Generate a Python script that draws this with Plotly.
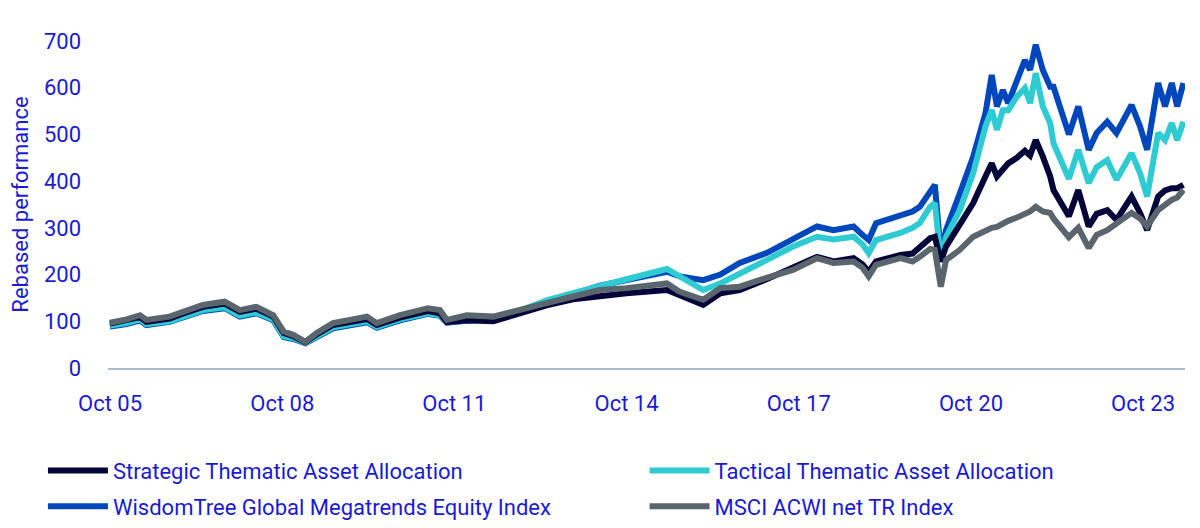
import plotly.graph_objects as go

# Rebased performance (approximate)
dates = [
    "2005-09-30", "2006-01-15", "2006-04-10", "2006-05-20", "2006-10-15",
    "2007-01-10", "2007-05-15", "2007-10-01", "2008-01-05", "2008-04-20",
    "2008-08-05", "2008-10-10", "2008-12-10", "2009-02-25", "2009-05-08",
    "2009-08-20", "2010-03-25", "2010-05-25", "2010-10-20", "2011-04-15",
    "2011-07-01", "2011-08-15", "2011-12-20", "2012-06-05", "2012-11-01",
    "2013-05-10", "2013-10-25", "2014-04-15", "2014-10-01", "2015-06-15",
    "2015-09-05", "2016-02-01", "2016-05-20", "2016-09-20", "2017-03-10",
    "2017-08-25", "2018-01-25", "2018-05-10", "2018-09-15", "2018-11-10",
    "2018-12-20", "2019-02-05", "2019-07-10", "2019-09-25", "2019-11-10",
    "2020-01-15", "2020-02-14", "2020-03-23", "2020-04-25", "2020-07-22",
    "2020-10-15", "2021-01-01", "2021-02-10", "2021-03-15", "2021-04-22",
    "2021-05-26", "2021-07-20", "2021-09-09", "2021-10-12", "2021-11-17",
    "2022-01-01", "2022-02-17", "2022-03-10", "2022-06-16", "2022-08-15",
    "2022-10-20", "2022-12-10", "2023-02-15", "2023-04-15", "2023-07-20",
    "2023-09-12", "2023-10-27", "2024-01-05", "2024-02-18", "2024-04-01",
    "2024-05-05", "2024-06-14",
]

msci = [
    97, 104, 113, 103, 110,
    121, 135, 142, 124, 131,
    113, 78, 71, 56, 75,
    96, 110, 96, 113, 128,
    124, 103, 113, 110, 124,
    139, 153, 167, 171, 181,
    163, 146, 171, 174, 193,
    210, 235, 225, 228, 215,
    196, 221, 235, 228, 238,
    255, 253, 174, 231, 253,
    281, 295, 300, 302, 310,
    315, 322, 330, 335, 345,
    335, 332, 320, 280, 300,
    257, 285, 295, 310, 332,
    320, 303, 338, 350, 360,
    365, 381,
]

strategic = [
    95, 101, 109, 99, 106,
    117, 131, 138, 120, 127,
    110, 75, 68, 55, 72,
    92, 105, 92, 108, 122,
    117, 98, 102, 100, 115,
    134, 147, 155, 160, 167,
    155, 135, 160, 167, 190,
    214, 238, 228, 235, 222,
    206, 228, 242, 245, 260,
    278, 281, 228, 260, 310,
    353, 410, 438, 410, 425,
    438, 450, 465, 455, 488,
    453, 410, 381, 325, 381,
    303, 330, 338, 317, 367,
    332, 295, 367, 380, 385,
    385, 392,
]

tactical = [
    91, 96, 104, 94, 100,
    110, 124, 130, 112, 119,
    104, 68, 64, 54, 68,
    87, 100, 88, 104, 117,
    113, 98, 102, 104, 120,
    145, 160, 174, 190, 212,
    196, 167, 181, 203, 231,
    260, 281, 275, 281, 265,
    246, 274, 289, 300, 310,
    345, 353, 232, 280, 338,
    417, 517, 552, 510, 552,
    552, 581, 599, 567, 631,
    560, 524, 481, 405, 467,
    396, 430, 445, 403, 460,
    417, 367, 503, 488, 524,
    488, 527,
]

wisdomtree = [
    89, 94, 102, 92, 99,
    109, 122, 128, 110, 117,
    102, 66, 62, 53, 66,
    85, 98, 86, 102, 116,
    112, 97, 101, 103, 118,
    143, 158, 176, 188, 206,
    196, 188, 200, 225, 246,
    274, 303, 295, 303, 285,
    274, 310, 328, 335, 345,
    374, 392, 245, 295, 374,
    452, 545, 627, 560, 595,
    567, 617, 659, 638, 692,
    638, 602, 602, 500, 560,
    467, 503, 527, 503, 563,
    517, 467, 610, 560, 610,
    560, 610,
]

tick_dates = ["2005-10-01", "2008-10-01", "2011-10-01", "2014-10-01",
              "2017-10-01", "2020-10-01", "2023-10-01"]
tick_text = ["Oct 05", "Oct 08", "Oct 11", "Oct 14", "Oct 17", "Oct 20", "Oct 23"]

TEXT = "#1a1ad4"
FONT = "Roboto"
SIZE = 22

# draw order: blue first, grey on top; legendrank keeps the reference order
series = [
    ("WisdomTree Global Megatrends Equity Index", wisdomtree, "#0047bb", "legend", 2),
    ("Tactical Thematic Asset Allocation", tactical, "#2ecbd2", "legend2", 1),
    ("Strategic Thematic Asset Allocation", strategic, "#05053a", "legend", 1),
    ("MSCI ACWI net TR Index", msci, "#5a656e", "legend2", 2),
]

fig = go.Figure()
for name, vals, color, leg, rank in series:
    fig.add_trace(go.Scatter(
        x=dates, y=vals, name=name, mode="lines",
        line=dict(color=color, width=6),
        legend=leg, legendrank=rank, legendgroup=name,
    ))

legend_common = dict(
    orientation="v",
    yanchor="top",
    y=-0.25,
    xanchor="left",
    font=dict(family=FONT, size=SIZE, color=TEXT),
    itemwidth=60,
    tracegroupgap=4,
    bgcolor="rgba(0,0,0,0)",
)

# page has an 8px body margin, so margins are shifted to land the plot at the reference spot
fig.update_layout(
    width=1200,
    height=528,
    plot_bgcolor="white",
    paper_bgcolor="white",
    font=dict(family=FONT, size=SIZE, color=TEXT),
    margin=dict(l=100, r=23, t=33, b=168, autoexpand=False),
    showlegend=True,
    legend=dict(x=-0.0604, **legend_common),
    legend2=dict(x=0.4982, **legend_common),
)
fig.update_xaxes(
    type="date",
    range=["2005-09-18", "2024-06-24"],
    tickvals=tick_dates,
    ticktext=tick_text,
    showgrid=False,
    showline=True,
    linecolor="#a9bccf",
    linewidth=2,
    ticks="",
    ticklabelstandoff=15,
    tickfont=dict(family=FONT, size=SIZE, color=TEXT),
)
fig.update_yaxes(
    range=[0, 700],
    tickvals=[0, 100, 200, 300, 400, 500, 600, 700],
    showgrid=False,
    zeroline=False,
    showline=False,
    ticks="",
    ticklabelstandoff=26,
    tickfont=dict(family=FONT, size=SIZE, color=TEXT),
    title=dict(text="Rebased performance", font=dict(family=FONT, size=SIZE, color=TEXT),
               standoff=14),
)

fig.write_html("out.html")
